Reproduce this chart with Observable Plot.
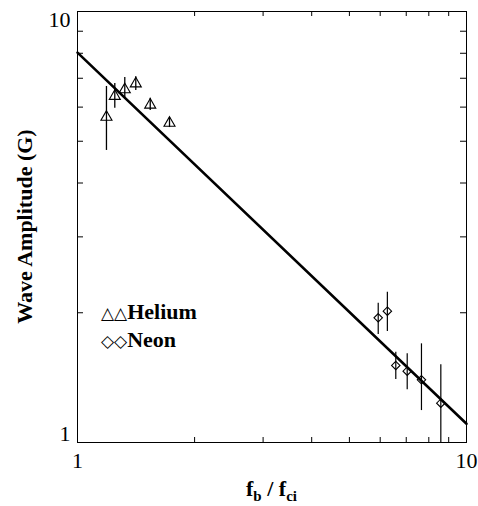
<!DOCTYPE html>
<html>
<head>
<meta charset="utf-8">
<script src="https://cdn.jsdelivr.net/npm/d3@7"></script>
<script src="https://cdn.jsdelivr.net/npm/@observablehq/plot@0.6"></script>
<style>
  html, body { margin: 0; padding: 0; background: #fff; }
  svg { display: block; }
</style>
</head>
<body>
<div id="chart"></div>
<script>
// Helium data (f_b/f_ci, amplitude G, error low, error high)
const heX  = [1.187, 1.247, 1.323, 1.412, 1.538, 1.724];
const heY  = [5.69, 6.36, 6.59, 6.80, 6.07, 5.51];
const heLo = [4.76, 5.96, 6.25, 6.56, 5.89, 5.38];
const heHi = [6.70, 6.81, 7.03, 7.06, 6.29, 5.68];
// Neon data
const neX  = [5.93, 6.26, 6.58, 7.04, 7.66, 8.59];
const neY  = [1.947, 2.017, 1.509, 1.464, 1.398, 1.234];
const neLo = [1.781, 1.810, 1.400, 1.325, 1.186, 1.0];
const neHi = [2.105, 2.233, 1.620, 1.606, 1.694, 1.514];
// Power-law fit line endpoints
const fitX = [1, 10];
const fitY = [8.03, 1.105];
// Axis ticks
const majorTicks = [1, 10];
const minorTicks = [2, 3, 4, 5, 6, 7, 8, 9];
const legendItems = [{sym: "\u25B3\u25B3", name: "Helium"}, {sym: "\u25C7\u25C7", name: "Neon"}];

const helium = heX.map((x, i) => ({x, y: heY[i], lo: heLo[i], hi: heHi[i]}));
const neon = neX.map((x, i) => ({x, y: neY[i], lo: neLo[i], hi: neHi[i]}));
const fit = fitX.map((x, i) => ({x, y: fitY[i]}));

const W = 478, H = 506;
const mL = 77, mR = 12, mT = 11, mB = 64;
const iw = W - mL - mR, ih = H - mT - mB;
const font = "'Liberation Serif', 'Times New Roman', serif";

const svg = Plot.plot({
  width: W, height: H,
  marginLeft: mL, marginRight: mR, marginTop: mT, marginBottom: mB,
  style: {fontFamily: font, background: "#fff", color: "#000"},
  x: {type: "log", domain: [1, 10]},
  y: {type: "log", domain: [1, 10]},
  marks: [
    // inward minor ticks
    Plot.tickX(minorTicks, {x: d => d, insetTop: ih - 5, stroke: "#000", strokeWidth: 1}),
    Plot.tickX(minorTicks, {x: d => d, insetBottom: ih - 5, stroke: "#000", strokeWidth: 1}),
    Plot.tickY(minorTicks, {y: d => d, insetRight: iw - 6, stroke: "#000", strokeWidth: 1}),
    Plot.tickY(minorTicks, {y: d => d, insetLeft: iw - 6, stroke: "#000", strokeWidth: 1}),
    // tick labels
    Plot.axisX(majorTicks, {tickSize: 0, tickPadding: 10, fontSize: 22, tickFormat: d => String(d), label: null}),
    Plot.axisY([10], {tickSize: 0, tickPadding: 7, fontSize: 22, tickFormat: d => String(d), label: null, dy: 8}),
    Plot.axisY([1], {tickSize: 0, tickPadding: 7, fontSize: 22, tickFormat: d => String(d), label: null, dy: -9}),
    // error bars
    Plot.ruleX(helium, {x: "x", y1: "lo", y2: "hi", stroke: "#000", strokeWidth: 1.3}),
    Plot.ruleX(neon, {x: "x", y1: "lo", y2: "hi", stroke: "#000", strokeWidth: 1.2}),
    // fit line
    Plot.line(fit, {x: "x", y: "y", stroke: "#000", strokeWidth: 2.6}),
    // markers
    Plot.dot(helium, {x: "x", y: "y", symbol: "triangle", r: 4.1, stroke: "#000", fill: "none", strokeWidth: 1.1}),
    Plot.dot(neon, {x: "x", y: "y", symbol: "diamond2", r: 3.8, stroke: "#000", fill: "none", strokeWidth: 1.1}),
    Plot.frame({stroke: "#000", strokeWidth: 1})
  ]
});

const s = d3.select(svg);
// y-axis label
s.append("text")
  .attr("transform", `translate(32,${mT + ih / 2}) rotate(-90)`)
  .attr("text-anchor", "middle")
  .attr("font-family", font)
  .attr("font-weight", "bold")
  .attr("font-size", 22)
  .attr("fill", "#000")
  .text("Wave Amplitude (G)");
// x-axis label with subscripts
const xl = s.append("text")
  .attr("x", mL + iw / 2)
  .attr("y", 496)
  .attr("text-anchor", "middle")
  .attr("font-family", font)
  .attr("font-weight", "bold")
  .attr("font-size", 22)
  .attr("fill", "#000");
xl.append("tspan").text("f");
xl.append("tspan").attr("font-size", 15).attr("dy", 5).text("b");
xl.append("tspan").attr("dy", -5).text(" / f");
xl.append("tspan").attr("font-size", 15).attr("dy", 5).text("ci");
// legend
legendItems.forEach((d, i) => {
  const t = s.append("text")
    .attr("x", 101)
    .attr("y", 319 + i * 28)
    .attr("text-anchor", "start")
    .attr("font-family", font)
    .attr("fill", "#000");
  t.append("tspan").attr("font-size", 17).attr("font-family", "'DejaVu Sans', sans-serif").text(d.sym);
  t.append("tspan").attr("font-size", 22).attr("font-weight", "bold").text(d.name);
});

document.getElementById("chart").appendChild(svg);
</script>
</body>
</html>
